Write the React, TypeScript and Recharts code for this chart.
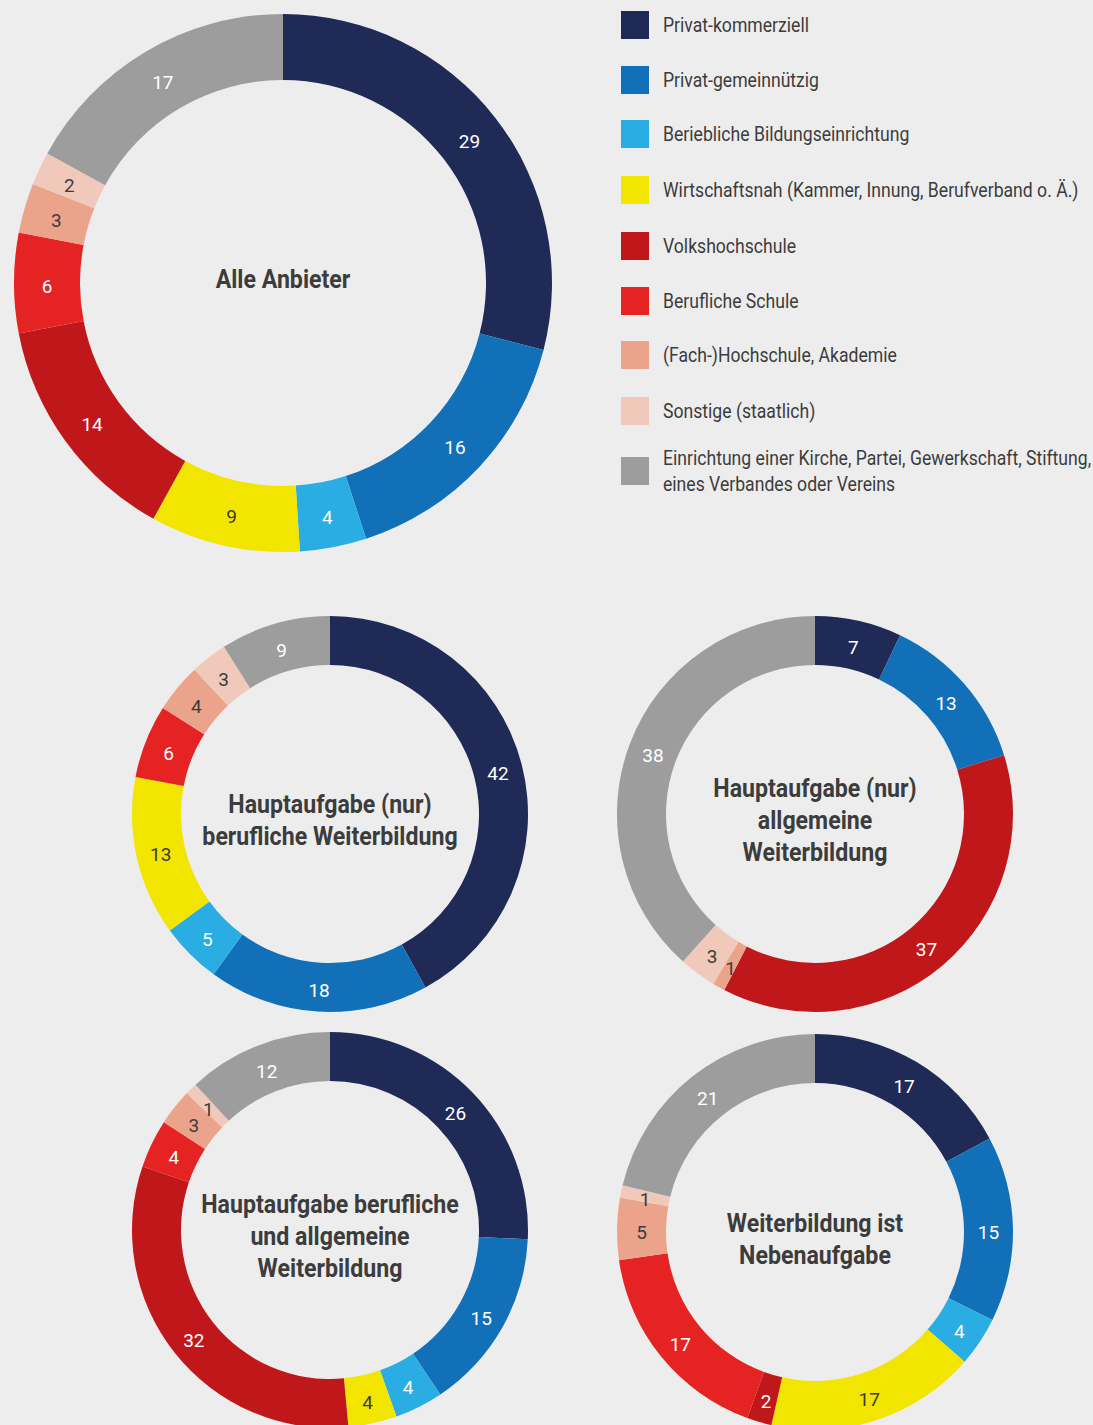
import { PieChart, Pie, Cell } from "recharts";

const categories = [
  "Privat-kommerziell",
  "Privat-gemeinnützig",
  "Beriebliche Bildungseinrichtung",
  "Wirtschaftsnah (Kammer, Innung, Berufverband o. Ä.)",
  "Volkshochschule",
  "Berufliche Schule",
  "(Fach-)Hochschule, Akademie",
  "Sonstige (staatlich)",
  "Einrichtung einer Kirche, Partei, Gewerkschaft, Stiftung,\neines Verbandes oder Vereins",
];

const colors = ["#1f2a56", "#1270b8", "#29ade3", "#f2e500", "#c0171b", "#e42322", "#eca38b", "#f0c9ba", "#9d9d9d"];
// labels on light slices are dark, otherwise white
const darkLabel = [false, false, false, true, false, false, true, true, false];

const alleAnbieter = [29, 16, 4, 9, 14, 6, 3, 2, 17];
const nurBeruflich = [42, 18, 5, 13, 0, 6, 4, 3, 9];
const nurAllgemein = [7, 13, 0, 0, 37, 0, 1, 3, 38];
const beruflichUndAllgemein = [26, 15, 4, 4, 32, 4, 3, 1, 12];
const nebenaufgabe = [17, 15, 4, 17, 2, 17, 5, 1, 21];

const titles = [
  ["Alle Anbieter"],
  ["Hauptaufgabe (nur)", "berufliche Weiterbildung"],
  ["Hauptaufgabe (nur)", "allgemeine", "Weiterbildung"],
  ["Hauptaufgabe berufliche", "und allgemeine", "Weiterbildung"],
  ["Weiterbildung ist", "Nebenaufgabe"],
];
const titleY = [279, 820, 820, 1236, 1239];

const FONT = 'Roboto, "Noto Sans", sans-serif';
const TEXT = "#3c3c3c";

const donuts = [
  { values: alleAnbieter, cx: 283, cy: 283, outer: 269, inner: 203 },
  { values: nurBeruflich, cx: 330, cy: 814, outer: 198, inner: 149 },
  { values: nurAllgemein, cx: 815, cy: 814, outer: 198, inner: 149 },
  { values: beruflichUndAllgemein, cx: 330, cy: 1230, outer: 198, inner: 149 },
  { values: nebenaufgabe, cx: 815, cy: 1232, outer: 198, inner: 149 },
];

const legendY = [25, 80, 134, 190, 246, 301, 355, 411, 471];

const RAD = Math.PI / 180;

function sliceLabel(props: any) {
  const { cx, cy, midAngle, innerRadius, outerRadius, payload } = props;
  const r = (innerRadius + outerRadius) / 2;
  const x = cx + r * Math.cos(-midAngle * RAD);
  const y = cy + r * Math.sin(-midAngle * RAD) + 3;
  return (
    <text
      x={x}
      y={y}
      textAnchor="middle"
      dominantBaseline="central"
      fill={darkLabel[payload.idx] ? TEXT : "#ffffff"}
      fontSize={19}
      fontFamily={FONT}
    >
      {payload.value}
    </text>
  );
}

export default function App() {
  return (
    <div
      style={{
        position: "absolute",
        left: 0,
        top: 0,
        width: 1093,
        height: 1425,
        background: "#ededed",
        overflow: "hidden",
        fontFamily: FONT,
      }}
    >
      <PieChart
        width={1093}
        height={1425}
        margin={{ top: 0, right: 0, bottom: 0, left: 0 }}
        style={{ position: "absolute", left: 0, top: 0 }}
      >
        {donuts.map((d, i) => {
          const data = d.values
            .map((v, idx) => ({ name: categories[idx], value: v, idx }))
            .filter((e) => e.value > 0);
          return (
            <Pie
              key={i}
              data={data}
              dataKey="value"
              cx={d.cx}
              cy={d.cy}
              innerRadius={d.inner}
              outerRadius={d.outer}
              startAngle={90}
              endAngle={-270}
              stroke="none"
              label={sliceLabel}
              labelLine={false}
              isAnimationActive={false}
            >
              {data.map((e) => (
                <Cell key={e.idx} fill={colors[e.idx]} />
              ))}
            </Pie>
          );
        })}
      </PieChart>

      {donuts.map((d, i) => (
        <div
          key={i}
          style={{
            position: "absolute",
            left: d.cx,
            top: titleY[i],
            transform: "translate(-50%, -50%) scaleX(0.89)",
            textAlign: "center",
            fontWeight: "bold",
            fontSize: 26,
            lineHeight: "32px",
            color: TEXT,
            whiteSpace: "nowrap",
          }}
        >
          {titles[i].map((t) => (
            <div key={t}>{t}</div>
          ))}
        </div>
      ))}

      {categories.map((c, i) => (
        <div key={c}>
          <div
            style={{
              position: "absolute",
              left: 621,
              top: legendY[i] - 14,
              width: 28,
              height: 28,
              background: colors[i],
            }}
          />
          <div
            style={{
              position: "absolute",
              left: 663,
              top: legendY[i],
              transform: "translateY(-50%) scaleX(0.88)",
              transformOrigin: "left center",
              fontSize: 20,
              lineHeight: "26px",
              color: TEXT,
              whiteSpace: "pre",
            }}
          >
            {c}
          </div>
        </div>
      ))}
    </div>
  );
}
